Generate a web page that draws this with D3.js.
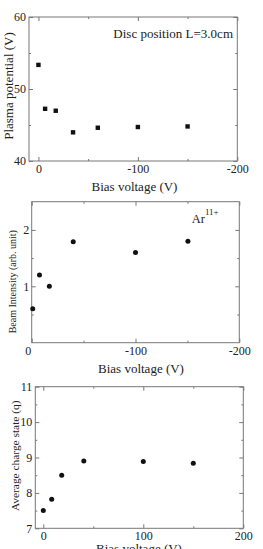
<!DOCTYPE html>
<html>
<head>
<meta charset="utf-8">
<script src="https://cdn.jsdelivr.net/npm/d3@7"></script>
<style>
body { margin: 0; background: #fff; }
text { font-family: "Liberation Serif", "Times New Roman", serif; fill: #222; }
</style>
</head>
<body>
<svg id="chart" width="263" height="549"></svg>
<script>
// top panel: plasma potential vs bias
var biasPotential = [0, -6.7, -17.4, -34.8, -59.7, -100, -150];
var plasmaPotential = [53.35, 47.25, 46.98, 43.98, 44.62, 44.72, 44.8];

// middle panel: Ar11+ beam intensity vs bias
var biasBeam = [-1, -7.5, -17, -40, -100, -150.5];
var beamIntensity = [0.6, 1.2, 1.0, 1.79, 1.6, 1.8];

// bottom panel: average charge state vs bias
var biasCharge = [0, 8.4, 18.4, 40.5, 100, 150];
var chargeState = [7.5, 7.82, 8.5, 8.9, 8.89, 8.84];

// ticks
var xMajorNeg = [0, -100, -200], xMinorNeg = [-50, -150];
var xMajorPos = [0, 100, 200], xMinorPos = [50, 150];
var potMajor = [40, 50, 60], potMinor = [45, 55];
var beamMajor = [0, 1, 2], beamMinor = [0.5, 1.5];
var chargeMajor = [7, 8, 9, 10, 11], chargeMinor = [7.5, 8.5, 9.5, 10.5];

var svg = d3.select("#chart");

function fmt(d) { return String(d); }

function drawPanel(p)
{
    var g = svg.append("g");
    var x = d3.scaleLinear().domain(p.xDomain).range([p.left, p.right]);
    var y = d3.scaleLinear().domain(p.yDomain).range([p.bottom, p.top]);

    //ticks on all four sides, pointing in
    function side(axis, tr, vals, size, labels, pad)
    {
        var a = axis.tickValues(vals).tickSizeInner(-size).tickSizeOuter(0).tickPadding(pad || 3)
            .tickFormat(labels ? fmt : "");
        var s = g.append("g").attr("transform", tr).call(a);
        s.select(".domain").remove();
        s.selectAll("line").attr("stroke", "#777");
        s.selectAll("text").attr("font-size", 12).attr("fill", "#222")
            .style("font-family", "'Liberation Serif', serif");
        return s;
    }
    var bx = side(d3.axisBottom(x), "translate(0," + p.bottom + ")", p.xMajor, 4, true, p.xPad);
    side(d3.axisBottom(x), "translate(0," + p.bottom + ")", p.xMinor, 2, false);
    side(d3.axisTop(x), "translate(0," + p.top + ")", p.xMajor, 4, false);
    side(d3.axisTop(x), "translate(0," + p.top + ")", p.xMinor, 2, false);
    side(d3.axisLeft(y), "translate(" + p.left + ",0)", p.yMajor, 4, true, p.yPad);
    side(d3.axisLeft(y), "translate(" + p.left + ",0)", p.yMinor, 2, false);
    side(d3.axisRight(y), "translate(" + p.right + ",0)", p.yMajor, 4, false);
    side(d3.axisRight(y), "translate(" + p.right + ",0)", p.yMinor, 2, false);
    if (p.zeroShift) {
        bx.selectAll(".tick text").filter(function(d) { return d === 0; }).attr("dx", p.zeroShift);
    }

    g.append("rect")
        .attr("x", p.left).attr("y", p.top)
        .attr("width", p.right - p.left).attr("height", p.bottom - p.top)
        .attr("fill", "none").attr("stroke", "#777").attr("stroke-width", 1);

    var pts = p.xs.map(function(v, i) { return [v, p.ys[i]]; });
    if (p.square) {
        g.selectAll(".pt").data(pts).enter().append("rect")
            .attr("x", function(d) { return x(d[0]) - 2.2; })
            .attr("y", function(d) { return y(d[1]) - 2.2; })
            .attr("width", 4.4).attr("height", 4.4)
            .attr("fill", "#111");
    } else {
        g.selectAll(".pt").data(pts).enter().append("circle")
            .attr("cx", function(d) { return x(d[0]); })
            .attr("cy", function(d) { return y(d[1]); })
            .attr("r", 2.5)
            .attr("fill", "#111");
    }

    g.append("text")
        .attr("x", p.xLabelX).attr("y", p.xLabelY)
        .attr("text-anchor", "middle").attr("font-size", 13)
        .text("Bias voltage (V)");

    g.append("text")
        .attr("transform", "translate(" + p.yLabelX + "," + p.yLabelY + ") rotate(-90)")
        .attr("text-anchor", "middle").attr("font-size", p.yLabelSize)
        .text(p.yLabel);

    return g;
}

var g1 = drawPanel({
    left: 29, right: 237.3, top: 17, bottom: 161,
    xDomain: [9.5, -200], yDomain: [40, 60],
    xMajor: xMajorNeg, xMinor: xMinorNeg, yMajor: potMajor, yMinor: potMinor,
    xPad: 3.5, yPad: 3,
    xs: biasPotential, ys: plasmaPotential, square: true,
    xLabelX: 134.5, xLabelY: 191,
    yLabel: "Plasma potential (V)", yLabelX: 12.5, yLabelY: 86, yLabelSize: 13
});
g1.append("text")
    .attr("x", 233).attr("y", 38)
    .attr("text-anchor", "end").attr("font-size", 13)
    .text("Disc position L=3.0cm");

var g2 = drawPanel({
    left: 31.7, right: 239.3, top: 201.7, bottom: 342.7,
    xDomain: [0, -200], yDomain: [0, 2.5],
    xMajor: xMajorNeg, xMinor: xMinorNeg, yMajor: beamMajor.slice(1), yMinor: beamMinor,
    xPad: 4, yPad: 2.5, zeroShift: -4,
    xs: biasBeam, ys: beamIntensity, square: false,
    xLabelX: 141, xLabelY: 373,
    yLabel: "Beam Intensity (arb. unit)", yLabelX: 15.5, yLabelY: 281.7, yLabelSize: 10
});
var ar = g2.append("text")
    .attr("x", 191.7).attr("y", 223)
    .attr("font-size", 12.5);
ar.append("tspan").text("Ar");
ar.append("tspan").attr("font-size", 9).attr("dy", -8).text("11+");

drawPanel({
    left: 35.3, right: 243.3, top: 386.7, bottom: 528.3,
    xDomain: [-8, 200], yDomain: [7, 11],
    xMajor: xMajorPos, xMinor: xMinorPos, yMajor: chargeMajor, yMinor: chargeMinor,
    xPad: 3.5, yPad: 3,
    xs: biasCharge, ys: chargeState, square: false,
    xLabelX: 139, xLabelY: 553,
    yLabel: "Average charge state (q)", yLabelX: 19, yLabelY: 455.8, yLabelSize: 11.4
});
</script>
</body>
</html>
